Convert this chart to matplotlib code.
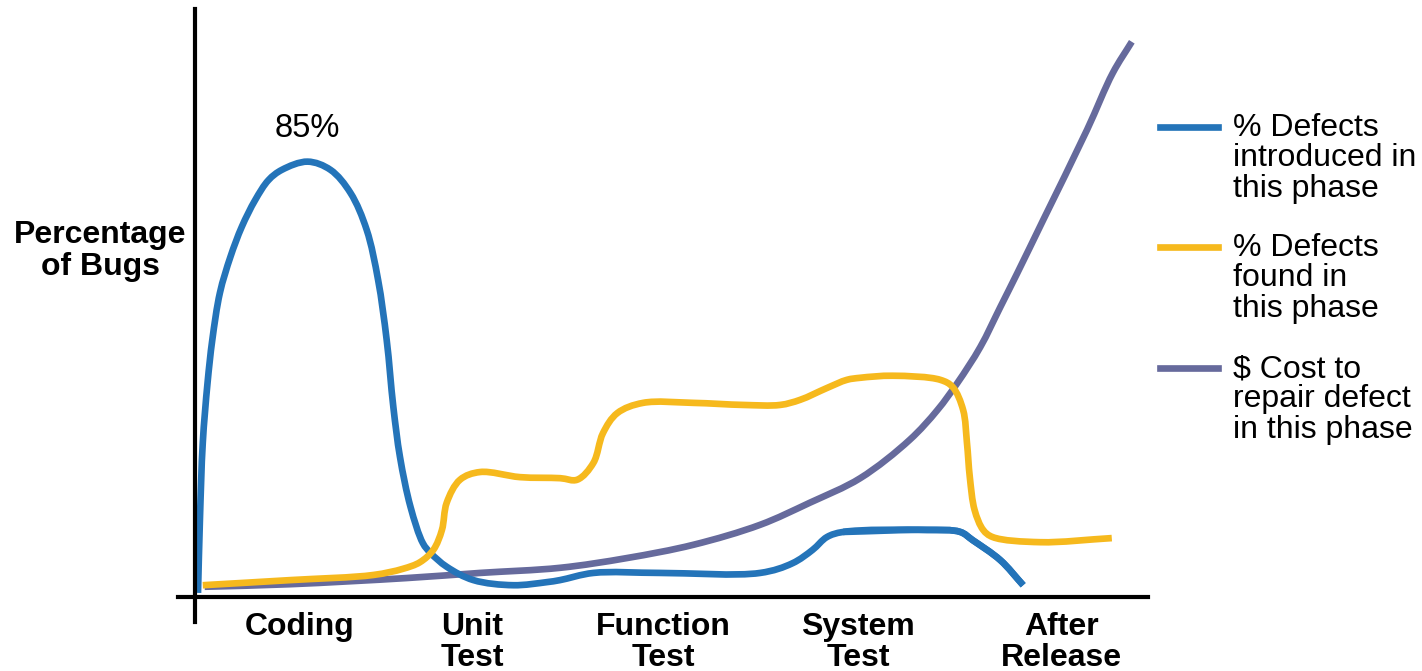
import matplotlib.pyplot as plt
import numpy as np
from matplotlib.path import Path
from matplotlib.patches import PathPatch
from matplotlib.lines import Line2D

# Phase labels and their position on the timeline (0-100 scale)
phases = ["Coding", "Unit\nTest", "Function\nTest", "System\nTest", "After\nRelease"]
phase_pos = [11.0, 29.1, 49.1, 69.6, 90.9]

# % defects introduced in this phase
intro_x = [0.3, 0.5, 0.8, 1.3, 1.8, 2.6, 3.7, 4.9, 6.3, 7.7, 9.1, 11.8, 14.2,
           16.3, 18.0, 19.2, 20.1, 20.8, 21.5, 22.6, 23.9, 24.7, 26.4, 29.2,
           33.4, 36.9, 38.3, 41.8, 48.8, 59.3, 62.7, 64.8, 66.3, 68.0, 76.8,
           80.3, 81.6, 84.5, 86.9]
intro_y = [0.8, 15.0, 30.1, 41.8, 50.2, 59.4, 66.4, 72.3, 77.5, 81.4, 83.4, 85.0,
           83.4, 78.9, 71.7, 61.9, 50.2, 37.1, 27.3, 17.6, 10.5, 8.6, 5.9, 3.3,
           2.3, 2.9, 3.3, 4.7, 4.7, 4.7, 6.6, 9.2, 11.7, 12.7, 13.1,
           12.7, 11.1, 7.2, 2.3]

# % defects found in this phase
found_x = [0.8, 10.0, 18.7, 21.8, 23.6, 25.0, 25.9, 26.4, 27.8, 29.9, 34.1, 38.3,
           40.1, 41.8, 42.8, 44.3, 47.0, 52.3, 57.5, 61.4, 63.5, 66.3, 68.4,
           69.8, 73.2, 78.2, 79.5, 80.6, 81.0, 81.3, 81.8, 82.7, 83.7, 88.7, 96.2]
found_y = [2.3, 3.3, 4.3, 5.5, 6.8, 9.2, 13.1, 18.4, 22.9, 24.4, 23.4, 23.2,
           22.9, 26.2, 32.0, 35.9, 37.9, 37.9, 37.5, 37.5, 38.5, 40.8, 42.4,
           42.8, 43.2, 42.4, 41.0, 36.5, 30.1, 23.4, 17.0, 13.1, 11.7, 10.7, 11.5]

# $ cost to repair defect in this phase
cost_x = [1.0, 10.0, 22.2, 29.9, 38.3, 45.3, 52.3, 59.3, 64.5, 69.8, 75.0, 77.9,
          80.0, 82.4, 84.5, 86.3, 89.0, 93.6, 96.3, 98.3]
cost_y = [2.0, 2.5, 3.7, 4.7, 5.7, 7.6, 10.2, 14.1, 18.4, 23.2, 30.7, 36.5,
          41.8, 48.8, 56.6, 63.3, 73.6, 91.2, 102.3, 108.4]

labels = ["% Defects\nintroduced in\nthis phase",
          "% Defects\nfound in\nthis phase",
          "$ Cost to\nrepair defect\nin this phase"]
colors = ["#2474B9", "#F6B91D", "#666A9C"]
peak_label = "85%"

TEXT = ["Liberation Sans", "DejaVu Sans"]
# rough pixel size of one x / y unit, used only to shape the smoothing
SX, SY = 9.53, 5.12


def smooth_path(x, y):
    """Centripetal Catmull-Rom through the points, drawn as Bezier segments."""
    p = np.column_stack([np.asarray(x, float) * SX, np.asarray(y, float) * SY])
    p = np.vstack([2 * p[0] - p[1], p, 2 * p[-1] - p[-2]])
    dt = np.sqrt(np.linalg.norm(np.diff(p, axis=0), axis=1)) + 1e-9
    t = np.concatenate([[0], np.cumsum(dt)])
    verts = [tuple(p[1])]
    codes = [Path.MOVETO]
    for i in range(1, len(p) - 2):
        p0, p1, p2, p3 = p[i - 1], p[i], p[i + 1], p[i + 2]
        t0, t1, t2, t3 = t[i - 1], t[i], t[i + 1], t[i + 2]
        m1 = (p1 - p0) / (t1 - t0) - (p2 - p0) / (t2 - t0) + (p2 - p1) / (t2 - t1)
        m2 = (p2 - p1) / (t2 - t1) - (p3 - p1) / (t3 - t1) + (p3 - p2) / (t3 - t2)
        s = (t2 - t1) / 3
        verts += [tuple(p1 + m1 * s), tuple(p2 - m2 * s), tuple(p2)]
        codes += [Path.CURVE4] * 3
    verts = np.array(verts) / [SX, SY]
    return Path(verts, codes)


fig = plt.figure(figsize=(14.22, 6.71), dpi=100)
ax = fig.add_axes([178 / 1422, 74 / 671, 970 / 1422, 588 / 671])
ax.set_xlim(-1.8, 100.0)
ax.set_ylim(0, 114.8)

for xs, ys, c in [(cost_x, cost_y, colors[2]), (intro_x, intro_y, colors[0]),
                  (found_x, found_y, colors[1])]:
    ax.add_patch(PathPatch(smooth_path(xs, ys), fill=False, edgecolor=c,
                           lw=4.8, capstyle="butt", joinstyle="round",
                           clip_on=False))
# blue stays on top of yellow near the end, as in the original
ax.add_patch(PathPatch(smooth_path(intro_x[33:], intro_y[33:]), fill=False,
                       edgecolor=colors[0], lw=4.8, capstyle="butt",
                       clip_on=False))

ax.axhline(0, color="black", lw=3.0, clip_on=False)
ax.axvline(0, ymin=-25 / 588, ymax=1, color="black", lw=3.0, clip_on=False)
for s in ax.spines.values():
    s.set_visible(False)

ax.set_xticks(phase_pos, phases, family=TEXT, weight="bold", fontsize=23,
              linespacing=1.03)
ax.tick_params(axis="x", length=0, pad=11)
ax.set_yticks([])

ax.set_ylabel("Percentage\nof Bugs", rotation=0, family=TEXT, weight="bold",
              fontsize=23, linespacing=1.05, ha="center", va="center")
ax.yaxis.set_label_coords(-0.0804, (597 - 251) / 588)

ipk = int(np.argmax(intro_y))
ax.annotate(peak_label, xy=(intro_x[ipk], intro_y[ipk]), xytext=(0, 24),
            textcoords="offset points", ha="center", va="center",
            family=TEXT, fontsize=23.5)

# legend drawn by hand so the swatch sits on the first text line
leg_y = [127, 247, 368]
for lab, c, yp in zip(labels, colors, leg_y):
    yf = 1 - yp / 671
    fig.add_artist(Line2D([1160 / 1422, 1218 / 1422], [yf, yf], color=c,
                          lw=4.8, transform=fig.transFigure))
    fig.text(1233 / 1422, 1 - (yp - 14) / 671, lab, ha="left", va="top",
             family=TEXT, fontsize=23, linespacing=1.02)

fig.savefig("out.png", dpi=100)
